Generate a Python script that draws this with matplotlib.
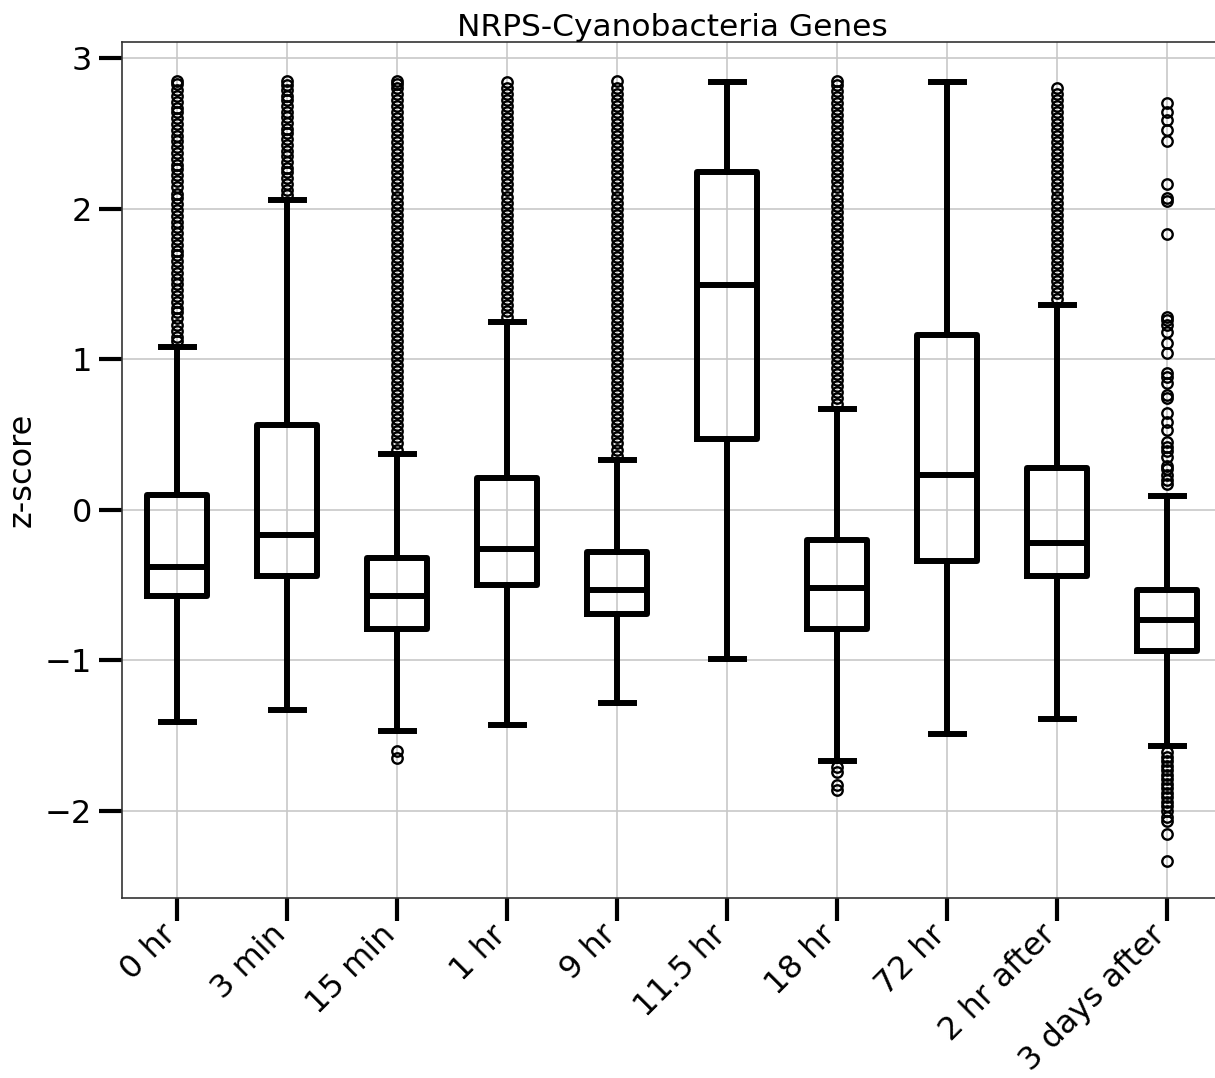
import matplotlib
matplotlib.use("Agg")
import matplotlib.pyplot as plt

categories = ["0 hr", "3 min", "15 min", "1 hr", "9 hr", "11.5 hr", "18 hr", "72 hr", "2 hr after", "3 days after"]
q1 = [-0.57, -0.44, -0.79, -0.50, -0.69, 0.47, -0.79, -0.34, -0.44, -0.94]
med = [-0.38, -0.17, -0.57, -0.26, -0.53, 1.49, -0.52, 0.23, -0.22, -0.73]
q3 = [0.10, 0.56, -0.32, 0.21, -0.28, 2.24, -0.20, 1.16, 0.28, -0.53]
whislo = [-1.41, -1.33, -1.47, -1.43, -1.28, -0.99, -1.67, -1.49, -1.39, -1.57]
whishi = [1.08, 2.06, 0.37, 1.25, 0.33, 2.84, 0.67, 2.84, 1.36, 0.09]

fl_0hr = [1.12, 1.15, 1.19, 1.23, 1.27, 1.31, 1.34, 1.38, 1.42, 1.46, 1.50, 1.53, 1.57, 1.61, 1.65,
          1.69, 1.72, 1.76, 1.80, 1.84, 1.88, 1.91, 1.95, 1.99, 2.03, 2.07, 2.10, 2.14, 2.18, 2.22,
          2.26, 2.29, 2.33, 2.37, 2.41, 2.45, 2.48, 2.52, 2.56, 2.60, 2.64, 2.67, 2.71, 2.75, 2.79, 2.83, 2.85]
fl_3min = [2.09, 2.12, 2.16, 2.20, 2.24, 2.27, 2.31, 2.35, 2.38, 2.42, 2.46, 2.50, 2.53, 2.57,
           2.61, 2.64, 2.68, 2.72, 2.75, 2.79, 2.82, 2.85]
fl_15min = [0.40, 0.44, 0.48, 0.52, 0.56, 0.60, 0.64, 0.68, 0.72, 0.76, 0.80, 0.84, 0.88, 0.92, 0.96,
            1.00, 1.04, 1.08, 1.12, 1.16, 1.20, 1.24, 1.28, 1.32, 1.36, 1.40, 1.44, 1.48, 1.52, 1.56,
            1.60, 1.64, 1.68, 1.72, 1.76, 1.80, 1.84, 1.88, 1.92, 1.96, 2.00, 2.04, 2.08, 2.12, 2.16,
            2.20, 2.24, 2.28, 2.32, 2.36, 2.40, 2.44, 2.48, 2.52, 2.56, 2.60, 2.64, 2.68, 2.72, 2.76,
            2.80, 2.83, 2.85, -1.60, -1.65]
fl_1hr = [1.28, 1.32, 1.36, 1.40, 1.44, 1.48, 1.52, 1.56, 1.60, 1.64, 1.68, 1.72, 1.76, 1.80, 1.84,
          1.88, 1.92, 1.96, 2.00, 2.04, 2.08, 2.12, 2.16, 2.20, 2.24, 2.28, 2.32, 2.36, 2.40, 2.44,
          2.48, 2.52, 2.56, 2.60, 2.64, 2.68, 2.72, 2.76, 2.80, 2.84]
fl_9hr = [0.36, 0.40, 0.44, 0.48, 0.52, 0.56, 0.60, 0.64, 0.68, 0.72, 0.76, 0.80, 0.84, 0.88, 0.92,
          0.96, 1.00, 1.04, 1.08, 1.12, 1.16, 1.20, 1.24, 1.28, 1.32, 1.36, 1.40, 1.44, 1.48, 1.52,
          1.56, 1.60, 1.64, 1.68, 1.72, 1.76, 1.80, 1.84, 1.88, 1.92, 1.96, 2.00, 2.04, 2.08, 2.12,
          2.16, 2.20, 2.24, 2.28, 2.32, 2.36, 2.40, 2.44, 2.48, 2.52, 2.56, 2.60, 2.64, 2.68, 2.72,
          2.76, 2.80, 2.85]
fl_11hr = []
fl_18hr = [0.70, 0.74, 0.78, 0.82, 0.86, 0.90, 0.94, 0.98, 1.02, 1.06, 1.10, 1.14, 1.18, 1.22, 1.26,
           1.30, 1.34, 1.38, 1.42, 1.46, 1.50, 1.54, 1.58, 1.62, 1.66, 1.70, 1.74, 1.78, 1.82, 1.86,
           1.90, 1.94, 1.98, 2.02, 2.06, 2.10, 2.14, 2.18, 2.22, 2.26, 2.30, 2.34, 2.38, 2.42, 2.46,
           2.50, 2.54, 2.58, 2.62, 2.66, 2.70, 2.74, 2.78, 2.82, 2.85, -1.71, -1.74, -1.83, -1.86]
fl_72hr = []
fl_2hrafter = [1.40, 1.44, 1.48, 1.52, 1.56, 1.60, 1.64, 1.68, 1.72, 1.76, 1.80, 1.84, 1.88, 1.92,
               1.96, 2.00, 2.04, 2.08, 2.12, 2.16, 2.20, 2.24, 2.28, 2.32, 2.36, 2.40, 2.44, 2.48,
               2.52, 2.56, 2.60, 2.64, 2.68, 2.72, 2.76, 2.80]
fl_3days = [0.17, 0.20, 0.23, 0.27, 0.29, 0.35, 0.39, 0.42, 0.45, 0.53, 0.58, 0.64, 0.74, 0.76,
            0.84, 0.88, 0.91, 1.04, 1.11, 1.18, 1.23, 1.26, 1.28, 1.83, 2.05, 2.07, 2.16, 2.45,
            2.52, 2.59, 2.64, 2.70,
            -1.61, -1.64, -1.67, -1.70, -1.73, -1.76, -1.79, -1.82, -1.85, -1.88, -1.91, -1.94,
            -1.97, -2.00, -2.04, -2.07, -2.15, -2.33]
fliers = [fl_0hr, fl_3min, fl_15min, fl_1hr, fl_9hr, fl_11hr, fl_18hr, fl_72hr, fl_2hrafter, fl_3days]

plt.rcParams['font.family'] = ['DejaVu Sans']

fig = plt.figure(figsize=(12.15, 10.78), dpi=100)
ax = fig.add_axes([122/1215, 1 - 898/1078, (1222 - 122)/1215, (898 - 42)/1078])

stats = []
for i, c in enumerate(categories):
    stats.append(dict(label=c, q1=q1[i], med=med[i], q3=q3[i],
                      whislo=whislo[i], whishi=whishi[i], fliers=fliers[i]))

lw = 4.3
ax.bxp(stats, positions=range(len(categories)), widths=0.55, capwidths=0.3,
       patch_artist=False,
       boxprops=dict(color='black', linewidth=lw),
       medianprops=dict(color='black', linewidth=lw),
       whiskerprops=dict(color='black', linewidth=lw),
       capprops=dict(color='black', linewidth=lw),
       flierprops=dict(marker='o', markerfacecolor='none', markeredgecolor='black',
                       markersize=7.5, markeredgewidth=1.7))

ax.set_xlim(-0.5, 9.5)
ax.set_ylim(-2.578, 3.106)
ax.set_yticks([-2, -1, 0, 1, 2, 3])
ax.set_xticks(range(len(categories)))
ax.set_xticklabels(categories, rotation=45, ha='right', va='baseline', rotation_mode='anchor',
                   fontsize=23)

ax.grid(True, color='#c8c8c8', linewidth=1.2)
ax.set_axisbelow(True)
for s in ax.spines.values():
    s.set_color('#333333')
    s.set_linewidth(1.2)

ax.tick_params(axis='both', direction='out', length=16.5, width=3, color='black',
               labelsize=23, pad=5)
ax.tick_params(axis='x', pad=11, labelsize=23)
ax.set_ylabel("z-score", fontsize=23, labelpad=5)
ax.set_title("NRPS-Cyanobacteria Genes", fontsize=22.5, pad=2)

fig.savefig("out.png", dpi=100)
